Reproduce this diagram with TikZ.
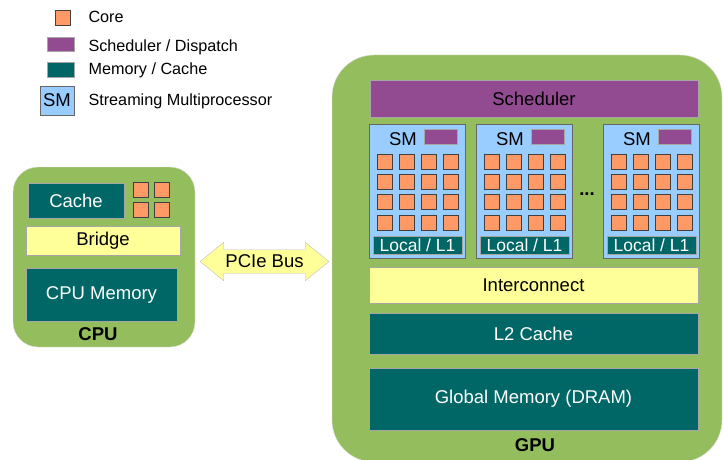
\documentclass[tikz,border=0pt]{standalone}
\usepackage{fontspec}
\setmainfont{Liberation Sans}
\usetikzlibrary{shapes.arrows}
\definecolor{boardgreen}{RGB}{148,189,94}
\definecolor{memteal}{RGB}{0,102,102}
\definecolor{schedpurple}{RGB}{146,74,145}
\definecolor{bridgeyellow}{RGB}{255,255,153}
\definecolor{smblue}{RGB}{153,204,255}
\definecolor{coreorange}{RGB}{255,153,102}

\begin{document}
\begin{tikzpicture}[x=1pt, y=-1pt,
    chip/.style = {draw=black!12, fill=boardgreen, inner sep=0pt},
    block/.style = {draw=black!35, rectangle, inner sep=0pt, font=\fontsize{18.5}{22}\selectfont},
    mem/.style = {block, fill=memteal, text=white},
    sched/.style = {block, fill=schedpurple},
    link/.style = {block, fill=bridgeyellow},
    smbox/.style = {block, draw=black!60, fill=smblue},
    core/.style = {draw=black!75, fill=coreorange, minimum size=15pt, inner sep=0pt},
    legend/.style = {anchor=west, font=\fontsize{16.2}{19}\selectfont},
    title/.style = {font=\fontsize{18.5}{22}\selectfont\bfseries},
    bus/.style = {double arrow, draw=black!25, fill=bridgeyellow, font=\fontsize{18.5}{22}\selectfont,
        minimum height=129pt, inner xsep=1pt, inner ysep=5pt,
        double arrow head extend=7.5pt, double arrow tip angle=78}]
    \useasboundingbox (0,0) rectangle (723,460);

    % legend
    \node[core] (lcore) at (62.5,18) {};
    \node[sched, minimum width=27pt, minimum height=14pt] (lsched) at (60.5,44) {};
    \node[mem, minimum width=27pt, minimum height=15pt] (lmem) at (60.5,69.5) {};
    \node[smbox, minimum width=34pt, minimum height=29pt] (lsm) at (57,100.5) {SM};
    \node[legend] (tcore) at (85,17) {Core};
    \node[legend] (tsched) at (85,47) {Scheduler / Dispatch};
    \node[legend] (tmem) at (85,70) {Memory / Cache};
    \node[legend] (tsm) at (85,101) {Streaming Multiprocessor};

    % CPU
    \node[chip, rounded corners=25pt, minimum width=182pt, minimum height=180pt] (cpu) at (104,257) {};
    \node[mem, minimum width=96pt, minimum height=35pt] (cache) at (76,200.5) {Cache};
    \foreach \cx in {141,162}
        \foreach \cy in {190,210}
            \node[core] (cpucore-\cx-\cy) at (\cx,\cy) {};
    \node[link, minimum width=154pt, minimum height=29pt] (bridge) at (103,240.5) {Bridge};
    \node[mem, minimum width=151pt, minimum height=53pt] (cpumem) at (101.5,294.5) {CPU Memory};
    \node[title] (cpulabel) at (98,334) {CPU};

    % GPU
    \node[chip, rounded corners=42pt, minimum width=390pt, minimum height=407pt] (gpu) at (527,258.5) {};
    \node[sched, minimum width=328pt, minimum height=37pt] (scheduler) at (534,98.5) {Scheduler};
    \foreach \sx/\n in {369/sma, 476/smb, 603/smc} {
        \begin{scope}[shift={(\sx,124)}]
            \node[smbox, minimum width=96pt, minimum height=134pt] (\n) at (48,67) {};
            \node[font=\fontsize{18.5}{22}\selectfont] (\n-name) at (34,15) {SM};
            \node[sched, minimum width=33pt, minimum height=15pt] (\n-disp) at (71.5,12.5) {};
            \foreach \i in {0,...,3}
                \foreach \j in {0,...,3}
                    \node[core] (\n-core-\i-\j) at (15.5+22*\i, 37.5+20.3*\j) {};
            \node[mem, font=\fontsize{17.5}{21}\selectfont, minimum width=89pt, minimum height=18pt] (\n-l1) at (48.5,121) {Local / L1};
        \end{scope}
    }
    \node[font=\fontsize{18.5}{22}\selectfont\bfseries] (dots) at (587,194) {...};
    \node[link, minimum width=329pt, minimum height=36pt] (interconnect) at (533.5,285) {Interconnect};
    \node[mem, minimum width=329pt, minimum height=41pt] (l2) at (533.5,333.5) {L2 Cache};
    \node[mem, minimum width=329pt, minimum height=62pt] (dram) at (533.5,399) {Global Memory (DRAM)};
    \node[title] (gpulabel) at (535,445) {GPU};

    % PCIe
    \node[bus] (pcie) at (264.5,261.5) {PCIe Bus};
\end{tikzpicture}
\end{document}
